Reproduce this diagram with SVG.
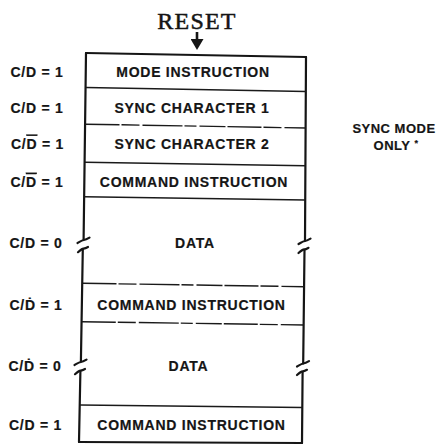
<svg xmlns="http://www.w3.org/2000/svg" width="440" height="445" viewBox="0 0 440 445">
<defs>
<style>
.lbl{font-family:"Liberation Sans",Arial,sans-serif;font-weight:bold;font-size:14px;letter-spacing:0.75px;fill:#151515;stroke:#151515;stroke-width:0.2;text-anchor:middle}
.note{font-family:"Liberation Sans",Arial,sans-serif;font-weight:bold;font-size:13px;letter-spacing:0.5px;fill:#151515;stroke:#151515;stroke-width:0.2;text-anchor:middle}
.title{font-family:"Liberation Serif","Times New Roman",serif;font-size:24px;letter-spacing:1.2px;fill:#151515;stroke:#151515;stroke-width:0.5;text-anchor:middle}
.edge{fill:none;stroke:#151515;stroke-width:2.2;stroke-linecap:round}
.div{fill:none;stroke:#1a1a1a;stroke-width:1.5}
.dash{fill:none;stroke:#1a1a1a;stroke-width:1.4;stroke-dasharray:34 2 18 3 40 2 12 3 26 2}
.ol{text-decoration:overline}
</style>
<marker id="ah" viewBox="0 0 11 13" refX="1" refY="6.5" markerWidth="11" markerHeight="13" markerUnits="userSpaceOnUse" orient="auto">
<path d="M0,0 L11,6.5 L0,13 Z" fill="#151515"/>
</marker>
</defs>
<rect width="440" height="445" fill="#ffffff"/>

<g id="reset">
<text class="title" x="197" y="28.5">RESET</text>
</g>

<g id="connectors">
<path d="M197,32 L197,40" stroke="#151515" stroke-width="2.6" fill="none" marker-end="url(#ah)"/>
</g>

<g id="frame">
<path class="edge" d="M86,53 L306,57"/>
<path class="edge" d="M86,53 L83.6,239.5"/>
<path class="edge" d="M306,57 L305,240.5"/>
<path class="edge" d="M77.5,243 C80,241.6 82,240.2 83.8,240 S87.5,238.8 89.5,237.6"/>
<path class="edge" d="M298.5,244 C301,242.6 303,241.2 305,241 S308.5,239.8 310.5,238.6"/>
<path class="edge" d="M78,252.2 C80,250.4 82,248.8 83.5,248.6 S86.5,247.8 88,247"/>
<path class="edge" d="M298.5,253 C300.5,251.2 302.5,249.6 304.4,249.4 S307,248.6 308.5,247.8"/>
<path class="edge" d="M82.8,249 L80.9,361.5"/>
<path class="edge" d="M304.5,250 L303.2,363.5"/>
<path class="edge" d="M74.5,365 C77,363.6 79,362.2 80.9,362 S84.5,360.8 86.5,359.6"/>
<path class="edge" d="M297,366.5 C299.5,365.1 301.5,363.7 303.3,363.5 S307,362.3 309,361.1"/>
<path class="edge" d="M75,374.2 C77,372.4 79,370.8 80.6,370.6 S83.5,369.8 85,369"/>
<path class="edge" d="M297,375 C299,373.2 301,371.6 302.7,371.4 S305.5,370.6 307,369.8"/>
<path class="edge" d="M80.4,371 L79,442"/>
<path class="edge" d="M302.6,372 L302,443"/>
<path class="edge" d="M79,442 L302,443"/>
</g>

<g id="row-mode">
<text class="lbl" x="37" y="76.7">C/D = 1</text>
<text class="lbl" x="193" y="77">MODE INSTRUCTION</text>
<path class="div" d="M86,87.5 L306,91.5"/>
</g>

<g id="row-sync1">
<text class="lbl" x="37" y="112.7">C/D = 1</text>
<text class="lbl" x="192" y="113">SYNC CHARACTER 1</text>
<path class="dash" d="M85.5,124.2 L306,128"/>
</g>

<g id="row-sync2">
<text class="lbl" x="37.5" y="148.5">C/<tspan class="ol">D</tspan> = 1</text>
<text class="lbl" x="192" y="149.3">SYNC CHARACTER 2</text>
<path class="div" d="M85,162.3 L305.5,165.7"/>
</g>

<g id="row-command1">
<text class="lbl" x="37" y="186.7">C/<tspan class="ol">D</tspan> = 1</text>
<text class="lbl" x="194" y="187">COMMAND INSTRUCTION</text>
<path class="div" d="M84.5,196.7 L305.3,200"/>
</g>

<g id="row-data1">
<text class="lbl" x="36" y="248.3">C/D = 0</text>
<text class="lbl" x="195" y="248">DATA</text>
<path class="dash" d="M82.5,283.3 L304.6,286.7"/>
</g>

<g id="row-command2">
<text class="lbl" x="36" y="310">C/Ḋ = 1</text>
<text class="lbl" x="191.5" y="310">COMMAND INSTRUCTION</text>
<path class="dash" d="M81.8,321.7 L304,325"/>
</g>

<g id="row-data2">
<text class="lbl" x="35" y="371">C/Ḋ = 0</text>
<text class="lbl" x="188.5" y="371">DATA</text>
<path class="div" d="M79.8,405 L302.7,407.5"/>
</g>

<g id="row-command3">
<text class="lbl" x="35.5" y="430">C/D = 1</text>
<text class="lbl" x="191.5" y="430">COMMAND INSTRUCTION</text>
</g>

<g id="sync-note">
<text class="note" x="394" y="132.5">SYNC MODE</text>
<text class="note" x="396" y="149.5">ONLY <tspan font-size="9" dy="-4">*</tspan></text>
</g>
</svg>
